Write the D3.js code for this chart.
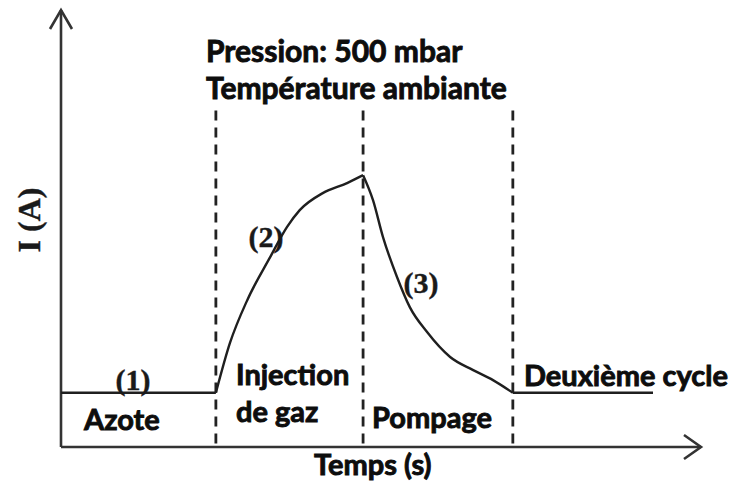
<!DOCTYPE html>
<html>
<head>
<meta charset="utf-8">
<script src="https://cdn.jsdelivr.net/npm/d3@7"></script>
<style>
  html, body { margin: 0; padding: 0; background: #fff; }
  svg { display: block; }
  .lbl { font-family: Lato, "Open Sans", sans-serif; font-weight: 700; fill: #0d0d0d; stroke: #0d0d0d; stroke-width: 0.9; }
  .num { font-family: "Liberation Serif", "DejaVu Serif", serif; font-weight: 700; fill: #1a1a1a; stroke: #1a1a1a; stroke-width: 0.4; }
</style>
</head>
<body>
<svg id="chart" width="734" height="487"></svg>
<script>
// Phase boundaries along the time axis (arbitrary time units)
const phaseBounds = [24.2, 47.2, 70.6];

// Phase (1): nitrogen baseline
const baseTime = [0, 24.2];
const baseCurrent = [12.4, 12.4];

// Phase (2): gas injection, current rises
const injTime = [24.2, 26.4, 29.1, 32.7, 35.3, 37.3, 40.9, 44.7, 47.2];
const injCurrent = [12.4, 23.8, 33.6, 43.5, 50.3, 54.2, 58.1, 60.4, 62.2];

// Phase (3): pumping, current decays back
const pumpTime = [47.2, 48.75, 50.3, 52.5, 54.5, 57.2, 60.8, 64.4, 67.5, 70.6];
const pumpCurrent = [62.2, 56.5, 48.1, 38.9, 32.0, 26.3, 20.6, 17.6, 15.3, 12.4];

// Second cycle baseline
const cycle2Time = [70.6, 92.5];
const cycle2Current = [12.4, 12.4];

const svg = d3.select("#chart");
const x = d3.scaleLinear().domain([0, 100]).range([61, 701]);
const y = d3.scaleLinear().domain([0, 100]).range([447, 10]);

const zip = (ts, vs) => ts.map((t, i) => [t, vs[i]]);

// Dashed phase separators
svg.selectAll("line.sep").data(phaseBounds).join("line")
  .attr("class", "sep")
  .attr("x1", d => x(d)).attr("x2", d => x(d))
  .attr("y1", y(77)).attr("y2", y(0))
  .attr("stroke", "#222").attr("stroke-width", 2.8)
  .attr("stroke-dasharray", "10,7");

// Axes with open arrowheads
const axisColor = "#333";
svg.append("line")
  .attr("x1", x(0)).attr("x2", x(0)).attr("y1", y(0)).attr("y2", y(100))
  .attr("stroke", axisColor).attr("stroke-width", 2.6);
svg.append("path")
  .attr("d", `M${x(0) - 11},${y(100) + 19} L${x(0)},${y(100)} L${x(0) + 11},${y(100) + 19}`)
  .attr("fill", "none").attr("stroke", axisColor).attr("stroke-width", 2.6);
svg.append("line")
  .attr("x1", x(0)).attr("x2", x(100)).attr("y1", y(0)).attr("y2", y(0))
  .attr("stroke", axisColor).attr("stroke-width", 2.6);
svg.append("path")
  .attr("d", `M${x(100) - 17},${y(0) - 12} L${x(100)},${y(0)} L${x(100) - 17},${y(0) + 12}`)
  .attr("fill", "none").attr("stroke", axisColor).attr("stroke-width", 2.6);

// Current curves
const straight = d3.line().x(d => x(d[0])).y(d => y(d[1]));
const smooth = d3.line().x(d => x(d[0])).y(d => y(d[1])).curve(d3.curveMonotoneX);
[[zip(baseTime, baseCurrent), straight],
 [zip(injTime, injCurrent), smooth],
 [zip(pumpTime, pumpCurrent), smooth],
 [zip(cycle2Time, cycle2Current), straight]].forEach(([pts, gen]) => {
  svg.append("path").attr("d", gen(pts))
    .attr("fill", "none").attr("stroke", "#1f1f1f").attr("stroke-width", 2.4)
    .attr("stroke-linejoin", "round");
});

// Header
svg.append("text").attr("class", "lbl").attr("x", 206).attr("y", 62)
  .attr("font-size", 30).text("Pression: 500 mbar");
svg.append("text").attr("class", "lbl").attr("x", 206).attr("y", 99)
  .attr("font-size", 30).text("Température ambiante");

// Phase names
const phaseLabels = [
  { t: "Azote", x: 84, y: 430 },
  { t: "Injection", x: 236, y: 385 },
  { t: "de gaz", x: 236, y: 422 },
  { t: "Pompage", x: 372, y: 428 },
  { t: "Deuxième cycle", x: 524, y: 386 }
];
svg.selectAll("text.phase").data(phaseLabels).join("text")
  .attr("class", "lbl phase").attr("font-size", 29)
  .attr("x", d => d.x).attr("y", d => d.y).text(d => d.t);

// Phase numbers
const phaseNums = [
  { t: "(1)", x: 133, y: 390 },
  { t: "(2)", x: 266, y: 247 },
  { t: "(3)", x: 421, y: 293 }
];
svg.selectAll("text.pn").data(phaseNums).join("text")
  .attr("class", "num pn").attr("font-size", 30).attr("text-anchor", "middle")
  .attr("x", d => d.x).attr("y", d => d.y).text(d => d.t);

// Axis titles
svg.append("text").attr("class", "lbl").attr("font-size", 29)
  .attr("x", 314).attr("y", 475).text("Temps (s)");
svg.append("text").attr("class", "num").attr("font-size", 32)
  .attr("text-anchor", "middle")
  .attr("transform", "translate(40,220) rotate(-90)").text("I (A)");
</script>
</body>
</html>
